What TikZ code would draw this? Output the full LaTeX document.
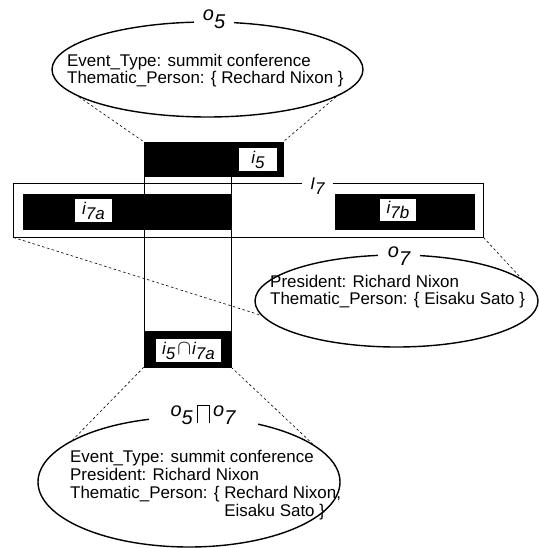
\documentclass[tikz,border=0pt]{standalone}
\usepackage{fontspec}
\setmainfont{Liberation Sans}
\usetikzlibrary{shapes.geometric}

% symbol with a lowered index, e.g. i_5, o_7
\newcommand{\ix}[2]{\textit{#1\raisebox{-0.3em}{#2}}}
\newcommand{\ox}[2]{\textit{#1\raisebox{-0.4em}{#2}}}
% square cap (meet) drawn from rules
\newcommand{\meetop}{\raisebox{-7bp}{\rule{0.7bp}{18bp}\rule[17.3bp]{11bp}{0.7bp}\rule{0.7bp}{18bp}}}

\begin{document}
\begin{tikzpicture}[x=1bp,y=-1bp,
  bar/.style={fill=black, draw=black, inner sep=0pt},
  tag/.style={fill=white, inner sep=0pt, font=\fontsize{17}{17}\selectfont},
  oval/.style={ellipse, draw=black, line width=1.4bp, inner sep=0pt},
  conn/.style={line width=0.6bp, dash pattern=on 2.5bp off 2.5bp},
  title/.style={fill=white, inner sep=0pt, font=\fontsize{20}{20}\selectfont},
  attr/.style={anchor=base west, inner sep=0pt, font=\fontsize{17}{18}\selectfont}]
\useasboundingbox (0,0) rectangle (539,548);

% ---- ovals with their attribute lists
\node[oval, minimum width=311bp, minimum height=95bp] (o5ell) at (207.5,69.5) {};
\node[title, minimum width=40bp, minimum height=24bp] (o5t) at (214,19) {\ox{o}{5}};
\node[attr] (o5a) at (67,67) {Event\_Type: summit conference};
\node[attr] (o5b) at (67,84) {Thematic\_Person: \{ Rechard Nixon \}};

\node[oval, minimum width=283bp, minimum height=92bp] (o7ell) at (396.5,301) {};
\node[title, minimum width=42bp, minimum height=24bp] (o7t) at (399,256) {\ox{o}{7}};
\node[attr] (o7a) at (270,287) {President: Richard Nixon};
\node[attr] (o7b) at (270,304) {Thematic\_Person: \{ Eisaku Sato \}};

\node[oval, minimum width=302bp, minimum height=130bp] (mell) at (189,482) {};
\node[title, minimum width=109bp, minimum height=26bp] (mt) at (203,415)
  {\ox{o}{5}\hspace{4bp}\meetop\hspace{4bp}\ox{o}{7}};
\node[attr] (m1) at (70,462) {Event\_Type: summit conference};
\node[attr] (m2) at (70,480) {President: Richard Nixon};
\node[attr] (m3) at (70,498) {Thematic\_Person: \{ Rechard Nixon,};
\node[attr] (m4) at (70,516) {\phantom{Thematic\_Person: \{ }Eisaku Sato \}};

% ---- interval bars
\node[draw=black, line width=1bp, inner sep=0pt, minimum width=469bp, minimum height=53bp] (i7) at (248.5,210.5) {};
\node[tag, minimum width=31bp, minimum height=14bp] (i7t) at (317.5,186) {\ix{I}{7}};

\node[bar, minimum width=139bp, minimum height=34bp] (i5) at (213.5,159) {};
\node[tag, minimum width=38bp, minimum height=23bp] (i5t) at (258,159.5) {\ix{i}{5}};

\node[bar, minimum width=208bp, minimum height=35bp] (i7a) at (127,211.5) {};
\node[tag, minimum width=37bp, minimum height=23bp] (i7at) at (93.5,210.5) {\ix{i}{7a}};

\node[bar, minimum width=139bp, minimum height=35bp] (i7b) at (404.5,211.5) {};
\node[tag, minimum width=36bp, minimum height=22bp] (i7bt) at (398,210) {\ix{i}{7b}};

\node[bar, minimum width=87bp, minimum height=35bp] (isect) at (187.5,349.5) {};
\node[tag, minimum width=65bp, minimum height=23bp] (isectt) at (188.5,350.5)
  {\ix{i}{5}\hspace{2bp}{\fontsize{21}{21}\selectfont$\cap$}\hspace{1bp}\ix{i}{7a}};

% projection column between i5 and the intersection
\coordinate (colTop) at (144,177);
\draw[line width=1bp] (colTop) rectangle (isect.north east);

% ---- dashed zoom connectors
\draw[conn] (o5ell.192) -- (i5.north west);
\draw[conn] (o5ell.348.5) -- (i5.north east);
\draw[conn] (i7.south west) -- (o7ell.186);
\draw[conn] (i7.south east) -- (o7ell.10);
\draw[conn] (isect.south west) -- (mell.160.5);
\draw[conn] (isect.south east) -- (mell.17.5);
\end{tikzpicture}
\end{document}
